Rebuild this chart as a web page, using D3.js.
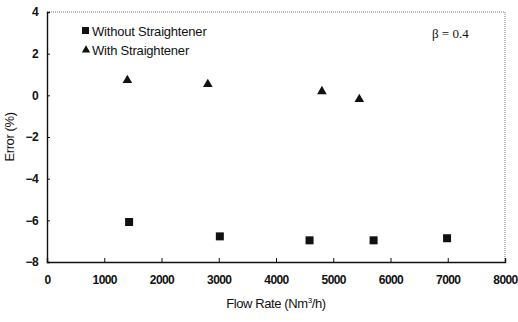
<!DOCTYPE html>
<html>
<head>
<meta charset="utf-8">
<script src="https://cdn.jsdelivr.net/npm/d3@7"></script>
<style>
  body { margin: 0; background: #fff; }
  text { font-family: "Liberation Sans", Arial, sans-serif; fill: #111; }
</style>
</head>
<body>
<div id="chart"></div>
<script>
var svgWidth = 518;
var svgHeight = 322;

var margin = { top: 12, right: 13, bottom: 60, left: 47 };
var width = svgWidth - margin.left - margin.right;
var height = svgHeight - margin.top - margin.bottom;

// data
var withoutFlow = [1434, 3019, 4586, 5705, 6988];
var withoutError = [-6.08, -6.77, -6.96, -6.96, -6.86];
var withFlow = [1404, 2809, 4802, 5455];
var withError = [0.72, 0.53, 0.19, -0.19];
var xTicks = [0, 1000, 2000, 3000, 4000, 5000, 6000, 7000, 8000];
var yTicks = [4, 2, 0, -2, -4, -6, -8];

var svg = d3.select("#chart").append("svg")
  .attr("width", svgWidth)
  .attr("height", svgHeight);

var chartGroup = svg.append("g")
  .attr("transform", `translate(${margin.left}, ${margin.top})`);

var x = d3.scaleLinear().domain([0, 8000]).range([0, width]);
var y = d3.scaleLinear().domain([-8, 4]).range([height, 0]);

// dotted top and right frame
chartGroup.append("path")
  .attr("d", `M0,0H${width}V${height}`)
  .attr("fill", "none")
  .attr("stroke", "#777")
  .attr("stroke-width", 1)
  .attr("stroke-dasharray", "1,1");

var bottomAxis = d3.axisBottom(x).tickValues(xTicks).tickFormat(d3.format("d"))
  .tickSize(-4).tickPadding(13);
var leftAxis = d3.axisLeft(y).tickValues(yTicks).tickFormat(d3.format("d"))
  .tickSize(-3).tickPadding(9);

var gx = chartGroup.append("g")
  .attr("transform", `translate(0, ${height})`)
  .call(bottomAxis);
var gy = chartGroup.append("g").call(leftAxis);

[gx, gy].forEach(function(g) {
  g.select(".domain").attr("stroke", "#111").attr("stroke-width", 1.4);
  g.selectAll(".tick line").attr("stroke", "#111");
  g.selectAll(".tick text")
    .attr("font-size", "12px")
    .attr("font-weight", "bold")
    .attr("letter-spacing", "-0.6px")
    .attr("fill", "#111");
});

// squares: without straightener
var sq = 8;
chartGroup.selectAll(".sq")
  .data(withoutFlow)
  .enter()
  .append("rect")
  .attr("x", (d, i) => x(d) - sq / 2)
  .attr("y", (d, i) => y(withoutError[i]) - sq / 2)
  .attr("width", sq)
  .attr("height", sq)
  .attr("fill", "#111");

// triangles: with straightener
var tri = d3.symbol().type(d3.symbolTriangle).size(40);
chartGroup.selectAll(".tri")
  .data(withFlow)
  .enter()
  .append("path")
  .attr("d", tri)
  .attr("transform", (d, i) => `translate(${x(d)}, ${y(withError[i])})`)
  .attr("fill", "#111");

// legend
chartGroup.append("rect")
  .attr("x", 35).attr("y", 15).attr("width", 7).attr("height", 7)
  .attr("fill", "#111");
chartGroup.append("text")
  .attr("x", 45).attr("y", 23.5)
  .attr("font-size", "13px")
  .attr("letter-spacing", "-0.2px")
  .text("Without Straightener");
chartGroup.append("path")
  .attr("d", d3.symbol().type(d3.symbolTriangle).size(30))
  .attr("transform", "translate(39, 38)")
  .attr("fill", "#111");
chartGroup.append("text")
  .attr("x", 45).attr("y", 42.5)
  .attr("font-size", "13px")
  .attr("letter-spacing", "-0.2px")
  .text("With Straightener");

chartGroup.append("text")
  .attr("x", 385).attr("y", 26)
  .attr("font-size", "13px")
  .style("font-family", "'Liberation Serif', serif")
  .text("β = 0.4");

// axis titles
chartGroup.append("text")
  .attr("transform", "rotate(-90)")
  .attr("x", -height / 2)
  .attr("y", -33)
  .attr("text-anchor", "middle")
  .attr("font-size", "13px")
  .attr("letter-spacing", "-0.4px")
  .text("Error (%)");

var xl = chartGroup.append("text")
  .attr("x", width / 2)
  .attr("y", height + 46)
  .attr("text-anchor", "middle")
  .attr("font-size", "13px")
  .attr("letter-spacing", "-0.4px");
xl.append("tspan").text("Flow Rate (Nm");
xl.append("tspan").attr("dy", "-5").attr("font-size", "8px").text("3");
xl.append("tspan").attr("dy", "5").text("/h)");
</script>
</body>
</html>
